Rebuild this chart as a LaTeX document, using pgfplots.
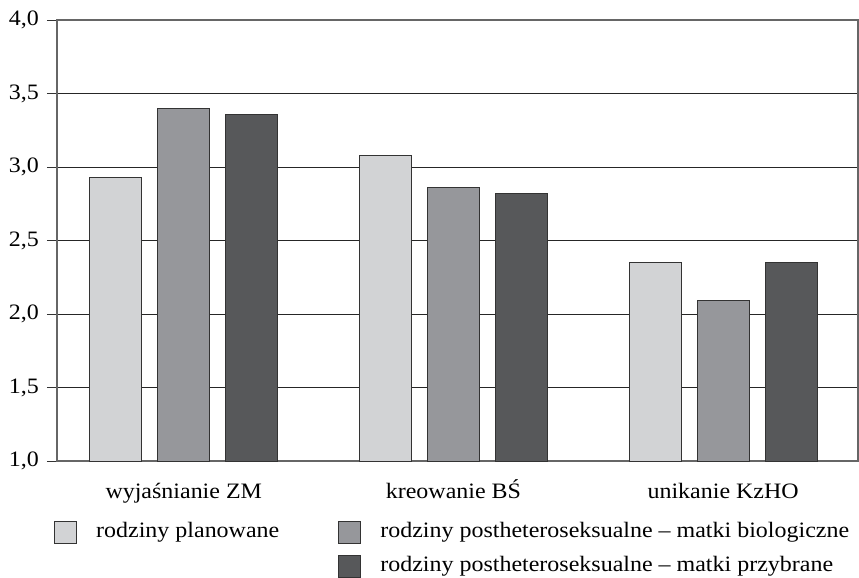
\documentclass[border=0pt]{standalone}
\usepackage{pgfplots}
\pgfplotsset{compat=1.18}
\usepackage{fontspec}
\setmainfont{Liberation Serif}[FakeStretch=1.09]

\definecolor{jasny}{HTML}{D2D3D5}
\definecolor{sredni}{HTML}{96979B}
\definecolor{ciemny}{HTML}{57585A}
\definecolor{krawedz}{HTML}{333333}

\begin{document}
\fontsize{22bp}{26bp}\selectfont
\begin{tikzpicture}
\begin{axis}[
    name=ax,
    scale only axis,
    width=801bp,
    height=441bp,
    xmin=-0.47, xmax=2.50,
    ymin=1, ymax=4,
    ytick={1,1.5,...,4},
    xtick={0,1,2},
    xticklabels={wyjaśnianie ZM, kreowanie BŚ, unikanie KzHO},
    x tick style={draw=none},
    ytick pos=left,
    tick align=outside,
    major tick length=10bp,
    y tick style={black!80, line width=0.9bp},
    ymajorgrids,
    major grid style={black!85, line width=0.9bp},
    axis line style={black!60, line width=1.1bp},
    /pgf/number format/.cd, use comma, fixed, fixed zerofill, precision=1, assume math mode=true,
    /pgfplots/.cd,
    yticklabel style={inner sep=0pt, xshift=-8bp},
    xticklabel style={inner sep=0pt, yshift=-11bp, text height=16bp, text depth=5bp},
    ybar,
    bar width=0.193,
    legend columns=2,
    legend image code/.code={\draw[#1, line width=1bp] (0bp,-11bp) rectangle (22bp,11bp);},
    legend style={
        at={(0,0)}, anchor=north west, xshift=-3bp, yshift=-60bp,
        draw=none, fill=none, inner sep=0pt, row sep=11bp,
        nodes={inner sep=0pt, anchor=west, text height=15bp, text depth=5bp},
        /tikz/every odd column/.style={column sep=19bp},
        /tikz/every even column/.style={column sep=59bp},
    },
]
\addplot[fill=jasny, draw=krawedz, line width=1bp, bar shift=-0.252]
    coordinates {(0,2.93) (1,3.08) (2,2.35)};
\addlegendentry{rodziny planowane}
\addplot[fill=sredni, draw=krawedz, line width=1bp, bar shift=0]
    coordinates {(0,3.40) (1,2.86) (2,2.09)};
\addlegendentry{rodziny postheteroseksualne – matki biologiczne}
\addlegendimage{empty legend}
\addlegendentry{}
\addplot[fill=ciemny, draw=krawedz, line width=1bp, bar shift=0.252]
    coordinates {(0,3.36) (1,2.82) (2,2.35)};
\addlegendentry{rodziny postheteroseksualne – matki przybrane}
\end{axis}
\pgfresetboundingbox
\path ([shift={(-57bp,-117bp)}]ax.south west) rectangle ([shift={(1bp,20bp)}]ax.north east);
\end{tikzpicture}
\end{document}
